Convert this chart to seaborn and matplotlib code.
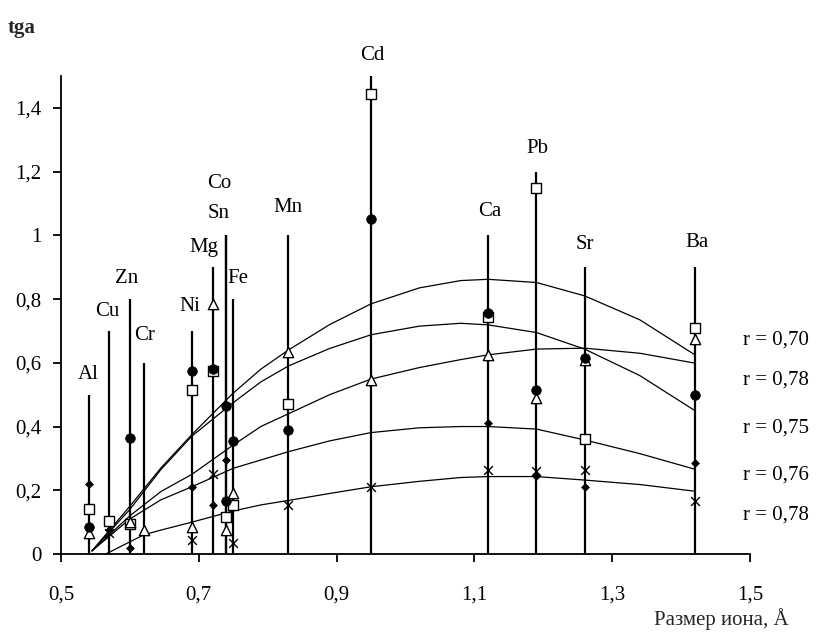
import numpy as np
import pandas as pd
import matplotlib
matplotlib.use("Agg")
import matplotlib.pyplot as plt
import seaborn as sns
from matplotlib.ticker import FuncFormatter

nan = np.nan

# ---------------- data ----------------
ions = ["Al", "Cu", "Zn", "Cr", "Ni", "Mg", "Co", "Sn", "Fe", "Mn", "Cd", "Ca", "Pb", "Sr", "Ba"]
radius = [0.54, 0.57, 0.60, 0.62, 0.69, 0.72, 0.74, 0.74, 0.75, 0.83, 0.95, 1.12, 1.19, 1.26, 1.42]
stem_top = [0.5, 0.7, 0.8, 0.6, 0.7, 0.9, 1.0, 1.0, 0.8, 1.0, 1.5, 1.0, 1.2, 0.9, 0.9]

series_square = [0.14, 0.105, 0.095, nan, 0.515, 0.575, 0.115, nan, 0.155, 0.47, 1.445, 0.745, 1.15, 0.36, 0.71]
series_circle = [0.085, nan, 0.365, nan, 0.575, 0.58, 0.465, 0.165, 0.355, 0.39, 1.05, 0.755, 0.515, 0.615, 0.50]
series_triangle = [0.065, nan, 0.10, 0.075, 0.085, 0.785, 0.075, nan, 0.19, 0.635, 0.545, 0.625, 0.49, 0.61, 0.675]
series_dot = [0.22, 0.075, 0.02, nan, 0.21, 0.155, 0.295, nan, nan, nan, nan, 0.41, 0.245, 0.21, 0.285]
series_cross = [nan, 0.065, nan, nan, 0.045, 0.25, nan, nan, 0.035, 0.155, 0.21, 0.265, 0.26, 0.265, 0.165]

# trend curves
curve_x = [0.545, 0.60, 0.645, 0.69, 0.75, 0.79, 0.83, 0.89, 0.95, 1.02, 1.08, 1.12, 1.19, 1.26, 1.34, 1.42]
curve_a = [0.01, 0.15, 0.27, 0.375, 0.505, 0.58, 0.64, 0.72, 0.785, 0.835, 0.858, 0.862, 0.852, 0.81, 0.735, 0.625]
curve_b = [0.01, 0.14, 0.265, 0.37, 0.475, 0.54, 0.59, 0.645, 0.688, 0.715, 0.724, 0.719, 0.695, 0.643, 0.56, 0.45]
curve_c = [0.01, 0.12, 0.196, 0.25, 0.342, 0.40, 0.44, 0.50, 0.549, 0.585, 0.61, 0.625, 0.643, 0.646, 0.63, 0.599]
curve_d = [0.01, 0.11, 0.17, 0.211, 0.269, 0.295, 0.321, 0.355, 0.381, 0.396, 0.40, 0.40, 0.392, 0.358, 0.315, 0.266]
curve_e_x = [0.565, 0.62, 0.645, 0.69, 0.75, 0.79, 0.83, 0.89, 0.95, 1.02, 1.08, 1.12, 1.19, 1.26, 1.34, 1.42]
curve_e = [0.0, 0.06, 0.075, 0.10, 0.135, 0.154, 0.168, 0.19, 0.211, 0.228, 0.24, 0.243, 0.243, 0.232, 0.218, 0.197]

r_labels = ["r = 0,70", "r = 0,78", "r = 0,75", "r = 0,76", "r = 0,78"]
x_ticks = [0.5, 0.7, 0.9, 1.1, 1.3, 1.5]
y_ticks = [0, 0.2, 0.4, 0.6, 0.8, 1.0, 1.2, 1.4]

# ---------------- layout (positions only) ----------------
ion_label_pos = {
    "Al": (0.539, 0.562), "Cu": (0.567, 0.760), "Zn": (0.595, 0.866), "Cr": (0.622, 0.685),
    "Ni": (0.687, 0.777), "Mg": (0.707, 0.963), "Co": (0.729, 1.164), "Sn": (0.729, 1.070),
    "Fe": (0.757, 0.866), "Mn": (0.830, 1.086), "Cd": (0.952, 1.564), "Ca": (1.123, 1.075),
    "Pb": (1.191, 1.274), "Sr": (1.261, 0.970), "Ba": (1.423, 0.976),
}
r_label_pos = [(1.49, 0.672), (1.49, 0.546), (1.49, 0.396), (1.49, 0.248), (1.49, 0.122)]

sns.set_style("ticks")
plt.rcParams["font.family"] = ["Liberation Serif", "DejaVu Serif"]

fig = plt.figure(figsize=(8.28, 6.32), dpi=100)
ax = fig.add_axes([61 / 828, 1 - 554 / 632, (750 - 61) / 828, (554 - 76) / 632])

# stems
ax.vlines(radius, 0, stem_top, color="black", lw=1.6, zorder=2)

# curves
for cy in (curve_a, curve_b, curve_c, curve_d):
    sns.lineplot(x=curve_x, y=cy, color="black", lw=0.9, ax=ax, zorder=3)
sns.lineplot(x=curve_e_x, y=curve_e, color="black", lw=0.9, ax=ax, zorder=3)

# markers
sns.scatterplot(x=radius, y=series_square, marker="s", s=42, color="white",
                edgecolor="black", linewidth=1.0, ax=ax, zorder=5)
sns.scatterplot(x=radius, y=series_triangle, marker="^", s=55, color="white",
                edgecolor="black", linewidth=1.0, ax=ax, zorder=5)
sns.scatterplot(x=radius, y=series_circle, marker="o", s=48, color="black",
                edgecolor="black", linewidth=0.5, ax=ax, zorder=6)
sns.scatterplot(x=radius, y=series_dot, marker="D", s=16, color="black",
                edgecolor="black", linewidth=0.5, ax=ax, zorder=6)
sns.scatterplot(x=radius, y=series_cross, marker="x", s=40, color="black",
                linewidth=1.0, ax=ax, zorder=6)

# ion labels
for name in ions:
    lx, ly = ion_label_pos[name]
    ax.text(lx, ly, name, ha="center", va="center", fontsize=15, color="black",
            clip_on=False)

for txt, (lx, ly) in zip(r_labels, r_label_pos):
    ax.text(lx, ly, txt, ha="left", va="center", fontsize=15, color="black", clip_on=False)

ax.set_xlim(0.5, 1.5)
ax.set_ylim(0, 1.5)
ax.set_xticks(x_ticks)
ax.set_yticks(y_ticks)


def comma(v, pos):
    s = f"{v:.1f}"
    if s.endswith(".0"):
        s = s[:-2]
    return s.replace(".", ",")


ax.xaxis.set_major_formatter(FuncFormatter(comma))
ax.yaxis.set_major_formatter(FuncFormatter(comma))
ax.tick_params(axis="both", direction="out", length=6, width=1.3, labelsize=15, colors="black")
ax.tick_params(axis="x", pad=17)
ax.tick_params(axis="y", pad=8)
for side in ("top", "right"):
    ax.spines[side].set_visible(False)
for side in ("left", "bottom"):
    ax.spines[side].set_linewidth(1.3)
    ax.spines[side].set_color("black")
ax.set_xlabel("")
ax.set_ylabel("")
ax.grid(False)

fig.text(22 / 828, 1 - 28 / 632, "tga", fontsize=15, fontweight="bold", ha="center", va="center")
fig.text(721 / 828, 1 - 619 / 632, "Размер иона, Å", fontsize=15, ha="center", va="center")

fig.savefig("out.png", dpi=100, facecolor="white")
